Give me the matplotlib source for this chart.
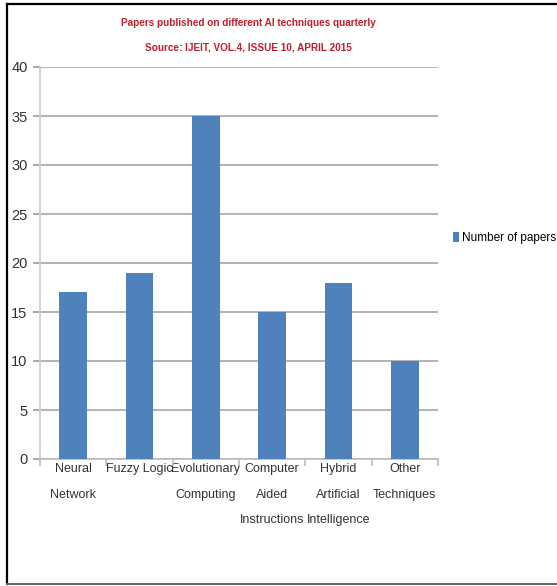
import matplotlib.pyplot as plt
from matplotlib.lines import Line2D

# Data
categories = ["Neural\nNetwork", "Fuzzy Logic", "Evolutionary\nComputing",
              "Computer\nAided\nInstructions", "Hybrid\nArtificial\nIntelligence",
              "Other\nTechniques"]
papers = [17, 19, 35, 15, 18, 10]
yticks = [0, 5, 10, 15, 20, 25, 30, 35, 40]

plt.rcParams['font.family'] = ['Liberation Sans', 'DejaVu Sans']

W, H = 557, 586
fig = plt.figure(figsize=(W / 100, H / 100), dpi=100)
ax = fig.add_axes([40/W, 1 - 459/H, 398/W, 392/H])

x = range(len(categories))
ax.bar(x, papers, width=0.42, color='#4F81BD', label='Number of papers', zorder=3)

ax.set_xlim(-0.5, len(categories) - 0.5)
ax.set_ylim(0, 40)
ax.set_yticks(yticks)
ax.set_yticklabels([str(t) for t in yticks], fontsize=10.5, color='#333333')
ax.set_xticks(list(x))
ax.set_xticklabels(categories, fontsize=9, color='#333333', linespacing=2.5, va='top')
ax.tick_params(axis='x', length=0, pad=3)
ax.tick_params(axis='y', length=5, color='#999999', pad=4, width=1.2)

# category boundary ticks on the x axis
ax.set_xticks([i - 0.5 for i in range(len(categories) + 1)], minor=True)
ax.tick_params(axis='x', which='minor', length=5, color='#bbbbbb', width=1.2)

ax.grid(axis='y', color='#a6a6a6', linewidth=1.2, zorder=0)
for s in ['top', 'right']:
    ax.spines[s].set_visible(False)
ax.spines['left'].set_color('#cccccc')
ax.spines['bottom'].set_color('#bbbbbb')
ax.spines['left'].set_linewidth(1.2)
ax.spines['bottom'].set_linewidth(1.2)

fig.text(248/W, 1 - 23/H, "Papers published on different AI techniques quarterly",
         ha='center', va='center', color='#c0202a', fontsize=7.2, fontweight='bold')
fig.text(248/W, 1 - 47/H, "Source: IJEIT, VOL.4, ISSUE 10, APRIL 2015",
         ha='center', va='center', color='#c0202a', fontsize=7.2, fontweight='bold')

ax.legend(loc='center left', bbox_to_anchor=(453/W, 1 - 238/H),
          bbox_transform=fig.transFigure, frameon=False, fontsize=8.5,
          handlelength=0.5, handleheight=0.9, handletextpad=0.25, borderaxespad=0,
          borderpad=0)

# page frame (top, left, bottom)
fig.add_artist(Line2D([7/W, 1], [1 - 4/H, 1 - 4/H], transform=fig.transFigure,
                      color='black', linewidth=1.6))
fig.add_artist(Line2D([7/W, 7/W], [1 - 4/H, 1 - 584/H], transform=fig.transFigure,
                      color='black', linewidth=1.6))
fig.add_artist(Line2D([7/W, 1], [1 - 584/H, 1 - 584/H], transform=fig.transFigure,
                      color='#666666', linewidth=1.4))

fig.savefig('out.png', dpi=100)
